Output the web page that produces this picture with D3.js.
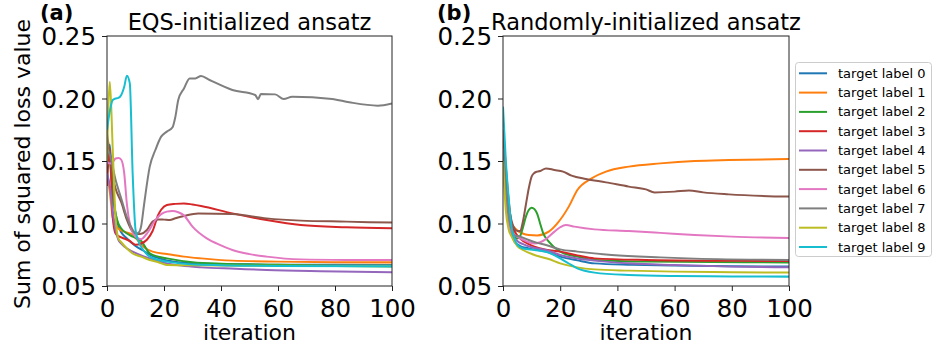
<!DOCTYPE html>
<html>
<head>
<meta charset="utf-8">
<script src="https://cdn.jsdelivr.net/npm/d3@7"></script>
<style>
  html, body { margin: 0; padding: 0; background: #fff; }
  svg { display: block; font-family: 'DejaVu Sans', sans-serif; }
</style>
</head>
<body>
<svg id="chart" width="933" height="353"></svg>
<script>
// ---- data ----
const labels = ['target label 0', 'target label 1', 'target label 2', 'target label 3', 'target label 4',
  'target label 5', 'target label 6', 'target label 7', 'target label 8', 'target label 9'];
const colors = ['#1f77b4', '#ff7f0e', '#2ca02c', '#d62728', '#9467bd',
  '#8c564b', '#e377c2', '#7f7f7f', '#bcbd22', '#17becf'];
const xTicks = [0, 20, 40, 60, 80, 100];
const yTicks = [0.05, 0.10, 0.15, 0.20, 0.25];

// [iteration, loss] pairs, one list per target label
const eqsLoss = [
  [[0,0.155],[1,0.163],[2,0.125],[3,0.108],[4,0.098],[5,0.093],[7,0.088],[10,0.082],[13,0.078],[15,0.075],[20,0.071],[25,0.069],[32,0.068],[45,0.0675],[60,0.067],[80,0.067],[100,0.0668]],
  [[0,0.14],[1,0.125],[2,0.105],[3,0.099],[4,0.096],[6,0.0935],[9,0.091],[11,0.086],[13,0.081],[16,0.0775],[21,0.0756],[27,0.0735],[33,0.0721],[44,0.0703],[60,0.0695],[80,0.069],[100,0.0689]],
  [[0,0.165],[1,0.15],[2,0.125],[3,0.108],[4,0.1],[5,0.096],[7,0.092],[9,0.0895],[12,0.086],[15,0.0761],[18,0.0735],[21,0.0721],[30,0.069],[40,0.0678],[60,0.067],[80,0.066],[100,0.0655]],
  [[0,0.13],[1,0.16],[2,0.105],[3,0.092],[4,0.09],[6,0.088],[8,0.086],[10,0.083],[12,0.084],[14,0.087],[16,0.094],[18,0.107],[19,0.111],[21,0.1148],[24,0.1157],[27,0.1161],[30,0.1152],[33,0.114],[44,0.1081],[56,0.1028],[68,0.0988],[84,0.097],[100,0.0961]],
  [[0,0.14],[1,0.13],[2,0.11],[3,0.095],[4,0.087],[5,0.084],[7,0.08],[9,0.0775],[12,0.0745],[15,0.0721],[18,0.0698],[21,0.0681],[26,0.0663],[33,0.0649],[45,0.0638],[56,0.0628],[75,0.0618],[100,0.0609]],
  [[0,0.172],[1,0.155],[2,0.1375],[3,0.128],[5,0.117],[7,0.1028],[9,0.0935],[11,0.0916],[12,0.0918],[14,0.0948],[16,0.1015],[18,0.1033],[20,0.1031],[22,0.1028],[24,0.1042],[27,0.106],[32,0.1081],[44,0.1076],[56,0.1041],[68,0.1023],[84,0.1015],[100,0.1007]],
  [[0,0.1495],[1,0.148],[2,0.149],[3,0.152],[4,0.1525],[5,0.151],[6,0.141],[7,0.115],[8,0.1],[9,0.093],[11,0.088],[12,0.0875],[14,0.092],[17,0.1028],[19,0.1075],[21,0.1095],[23,0.11],[25,0.109],[27,0.1065],[30,0.0975],[35,0.0881],[40,0.0825],[44,0.0788],[50,0.0755],[56,0.0735],[68,0.0713],[84,0.0709],[100,0.0708]],
  [[0,0.16],[1,0.155],[3,0.135],[5,0.12],[7,0.105],[9,0.095],[10,0.092],[11,0.0925],[12,0.098],[13,0.115],[15,0.1455],[17,0.159],[19,0.1695],[21,0.1735],[23,0.177],[24,0.1855],[25,0.1988],[27,0.208],[29,0.2161],[31,0.2161],[33,0.218],[36,0.2148],[44,0.2068],[52,0.2028],[53,0.1995],[54,0.2036],[59,0.2033],[62,0.1996],[65,0.2015],[79,0.1996],[85,0.197],[95,0.1943],[100,0.1961]],
  [[0,0.15],[1,0.2135],[2,0.16],[3,0.105],[4,0.088],[5,0.085],[7,0.08],[9,0.076],[12,0.0735],[15,0.0708],[18,0.069],[21,0.0668],[30,0.0665],[50,0.0663],[100,0.0663]],
  [[0,0.175],[1,0.19],[2,0.1988],[3,0.2],[4,0.2005],[5,0.2028],[6,0.209],[7,0.2183],[8,0.2121],[9,0.14],[10,0.095],[11,0.086],[13,0.078],[15,0.0735],[21,0.0695],[33,0.067],[60,0.066],[100,0.0658]],
];

const randLoss = [
  [[0,0.17],[1,0.13],[2,0.105],[3,0.093],[4,0.0855],[6,0.082],[9,0.0801],[15,0.0775],[20,0.0735],[26,0.0705],[32,0.0681],[45,0.067],[60,0.0663],[80,0.0658],[100,0.0655]],
  [[0,0.175],[1,0.14],[2,0.112],[3,0.1001],[5,0.0945],[9,0.0908],[12,0.0905],[16,0.0935],[19,0.1001],[23,0.1135],[26,0.1268],[31,0.1361],[36,0.1415],[44,0.1455],[55,0.1481],[67,0.15],[79,0.1508],[100,0.1516]],
  [[0,0.16],[1,0.13],[2,0.108],[3,0.097],[4,0.09],[5,0.088],[6,0.09],[7,0.097],[8,0.1055],[9,0.1108],[10,0.1127],[11,0.1115],[12,0.1075],[13,0.0998],[14,0.0925],[16,0.0855],[20,0.0775],[26,0.0735],[32,0.0708],[50,0.0695],[100,0.0689]],
  [[0,0.175],[1,0.145],[2,0.118],[3,0.1],[4,0.094],[6,0.088],[9,0.0835],[11,0.0815],[15,0.079],[20,0.0775],[26,0.0745],[32,0.0721],[50,0.0708],[75,0.0702],[100,0.07]],
  [[0,0.15],[1,0.12],[2,0.1],[3,0.092],[5,0.086],[7,0.0835],[10,0.081],[15,0.0788],[20,0.0748],[26,0.072],[32,0.0703],[45,0.068],[60,0.0668],[80,0.0655],[100,0.0649]],
  [[0,0.17],[1,0.14],[2,0.115],[3,0.102],[4,0.096],[5,0.094],[6,0.094],[7,0.102],[8,0.115],[9,0.128],[10,0.1375],[11,0.1405],[12,0.1415],[13,0.142],[15,0.1441],[18,0.1428],[21,0.1415],[24,0.1383],[29,0.1356],[36,0.1329],[44,0.1295],[50,0.1273],[53,0.1249],[60,0.1255],[65,0.1265],[70,0.1249],[79,0.1233],[100,0.1215]],
  [[0,0.15],[1,0.12],[2,0.1],[3,0.093],[5,0.0895],[7,0.087],[9,0.085],[11,0.0841],[13,0.085],[15,0.0875],[18,0.0935],[20,0.097],[22,0.0988],[25,0.0975],[32,0.0953],[44,0.094],[55,0.0925],[67,0.0908],[80,0.0895],[100,0.0884]],
  [[0,0.16],[1,0.125],[2,0.105],[3,0.095],[4,0.0905],[6,0.0895],[9,0.0868],[12,0.0845],[15,0.0828],[20,0.0793],[26,0.0775],[38,0.0748],[55,0.0729],[75,0.0715],[100,0.0708]],
  [[0,0.15],[1,0.11],[2,0.095],[3,0.0895],[5,0.082],[7,0.0788],[11,0.0748],[16,0.0716],[20,0.0681],[26,0.0649],[32,0.0633],[44,0.0623],[60,0.0615],[80,0.061],[100,0.0607]],
  [[0,0.1935],[1,0.15],[2,0.12],[3,0.097],[4,0.088],[5,0.083],[7,0.08],[11,0.0788],[16,0.0767],[20,0.0721],[23,0.068],[26,0.0641],[32,0.0607],[44,0.0588],[60,0.058],[80,0.0577],[100,0.0575]],
];

const panels = [
  { tag: '(a)', title: 'EQS-initialized ansatz', series: eqsLoss, left: 107, right: 392, tagX: 40 },
  { tag: '(b)', title: 'Randomly-initialized ansatz', series: randLoss, left: 503, right: 789, tagX: 437 },
];

const svg = d3.select('#chart');
const plotTop = 36, plotBottom = 286;
const tickFont = 24.5;

const y = d3.scaleLinear().domain([0.05, 0.25]).range([plotBottom, plotTop]);

panels.forEach((p, pi) => {
  const x = d3.scaleLinear().domain([0, 100]).range([p.left, p.right]);

  svg.append('clipPath').attr('id', 'clip' + pi)
    .append('rect').attr('x', p.left).attr('y', plotTop)
    .attr('width', p.right - p.left).attr('height', plotBottom - plotTop);

  const line = d3.line()
    .x(d => x(d[0])).y(d => y(d[1]))
    .curve(d3.curveMonotoneX);

  const g = svg.append('g').attr('clip-path', `url(#clip${pi})`);
  p.series.forEach((s, i) => {
    g.append('path').attr('d', line(s))
      .attr('fill', 'none').attr('stroke', colors[i])
      .attr('stroke-width', 2).attr('stroke-linejoin', 'round');
  });

  // frame
  svg.append('rect').attr('x', p.left).attr('y', plotTop)
    .attr('width', p.right - p.left).attr('height', plotBottom - plotTop)
    .attr('fill', 'none').attr('stroke', '#222').attr('stroke-width', 1);

  // axes
  const xAx = svg.append('g').attr('transform', `translate(0,${plotBottom})`)
    .call(d3.axisBottom(x).tickValues(xTicks).tickSize(5).tickPadding(6).tickFormat(d3.format('d')));
  const yAx = svg.append('g').attr('transform', `translate(${p.left},0)`)
    .call(d3.axisLeft(y).tickValues(yTicks).tickSize(5).tickPadding(6).tickFormat(d3.format('.2f')));
  [xAx, yAx].forEach(a => {
    a.select('.domain').remove();
    a.selectAll('line').attr('stroke', '#222');
    a.selectAll('text').attr('fill', '#000')
      .style('font-family', "'DejaVu Sans', sans-serif").style('font-size', tickFont + 'px');
  });
  xAx.selectAll('text').attr('dy', null).attr('y', 30.5);
  yAx.selectAll('text').attr('dy', '0.36em');

  svg.append('text').attr('x', (p.left + p.right) / 2).attr('y', 29.5)
    .attr('text-anchor', 'middle').style('font-size', '22.5px').text(p.title);
  svg.append('text').attr('x', p.tagX).attr('y', 19.5)
    .style('font-size', '21px').style('font-weight', 'bold').text(p.tag);
  svg.append('text').attr('x', (p.left + p.right) / 2).attr('y', 340)
    .attr('text-anchor', 'middle').style('font-size', '22px').text('iteration');
});

svg.append('text')
  .attr('transform', 'translate(30,164) rotate(-90)')
  .attr('text-anchor', 'middle').style('font-size', '22px')
  .text('Sum of squared loss value');

// legend
const lg = svg.append('g');
lg.append('rect').attr('x', 795.5).attr('y', 62.5).attr('width', 136).attr('height', 194)
  .attr('rx', 3).attr('fill', '#fff').attr('fill-opacity', 0.8)
  .attr('stroke', '#ccc').attr('stroke-width', 1);
labels.forEach((l, i) => {
  const ly = 73.3 + i * 19.3;
  lg.append('line').attr('x1', 799).attr('x2', 827).attr('y1', ly).attr('y2', ly)
    .attr('stroke', colors[i]).attr('stroke-width', 2);
  lg.append('text').attr('x', 838).attr('y', ly).attr('dy', '0.35em')
    .style('font-size', '13px').text(l);
});
</script>
</body>
</html>
